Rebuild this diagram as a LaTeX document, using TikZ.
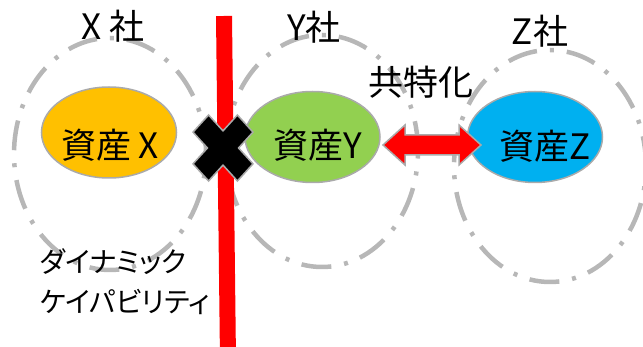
\documentclass[tikz,border=0pt]{standalone}
\usepackage{fontspec}
\setmainfont{Noto Sans CJK JP}
\newfontfamily\kanafont[RawFeature=+palt]{Noto Sans CJK JP}
\usetikzlibrary{shapes.geometric,calc}
\definecolor{dashgray}{RGB}{183,183,183}
\definecolor{edgegray}{RGB}{170,170,170}
\definecolor{assetX}{RGB}{255,192,0}
\definecolor{assetY}{RGB}{146,208,80}
\definecolor{assetZ}{RGB}{0,176,240}
\definecolor{barred}{RGB}{255,0,0}
\begin{document}
\begin{tikzpicture}[x=1pt,y=-1pt,
  company/.style={ellipse, draw=dashgray, line width=4.5pt,
    dash pattern=on 30pt off 13pt on 4pt off 13pt,
    minimum width=192pt, minimum height=232pt, inner sep=0pt},
  asset/.style={ellipse, draw=edgegray, line width=1.5pt,
    minimum width=135pt, minimum height=91pt, inner sep=0pt},
  bigtext/.style={font=\fontsize{35}{40}\selectfont, inner sep=0pt},
  kanatext/.style={font=\kanafont\fontsize{31}{44}\selectfont, inner sep=0pt, align=left,
    xscale=0.9, yscale=0.91, transform shape},
  shape outline/.style={draw=edgegray, line width=1.5pt}
]
\useasboundingbox (0,0) rectangle (643,347);
% company circles
\node[company] (cx) at (110,154) {};
\node[company] (cy) at (322,151) {};
\node[company] (cz) at (550,166) {};
% asset ellipses
\node[asset, fill=assetX] (ax) at (109,132.5) {};
\node[asset, fill=assetY] (ay) at (312.5,137) {};
\node[asset, fill=assetZ] (az) at (535,137) {};
% red barrier line
\coordinate (rt) at (224,16);
\coordinate (rb) at (228,360);
\draw[barred, line width=16pt] (rt) -- (rb);
% double arrow between Y and Z
\coordinate (al) at (383,145);
\coordinate (ar) at (481,145);
\fill[barred, shape outline] (al) -- ($(al)+(22,-20)$) -- ($(al)+(22,-10)$)
  -- ($(ar)+(-22,-10)$) -- ($(ar)+(-22,-20)$) -- (ar) -- ($(ar)+(-22,20)$)
  -- ($(ar)+(-22,10)$) -- ($(al)+(22,10)$) -- ($(al)+(22,20)$) -- cycle;
% black cross
\coordinate (cross) at (223,148);
\begin{scope}[shift={(cross)}, yscale=1.1, rotate=45]
\fill[black, shape outline] (31.4,11) -- (11,11) -- (11,31.4) -- (-11,31.4) -- (-11,11)
  -- (-31.4,11) -- (-31.4,-11) -- (-11,-11) -- (-11,-31.4) -- (11,-31.4)
  -- (11,-11) -- (31.4,-11) -- cycle;
\end{scope}
% texts
\node[bigtext] (tx) at (113,26) {X 社};
\node[bigtext] (ty) at (314,27) {Y社};
\node[bigtext] (tz) at (540,31) {Z社};
\node[bigtext] (tk) at (421,82) {共特化};
\node[bigtext] (lx) at (110,145) {資産 X};
\node[bigtext] (ly) at (318,145) {資産Y};
\node[bigtext] (lz) at (545,146) {資産Z};
\node[kanatext, anchor=west] (dc) at (40,282) {ダイナミック\\ケイパビリティ};
\end{tikzpicture}
\end{document}
